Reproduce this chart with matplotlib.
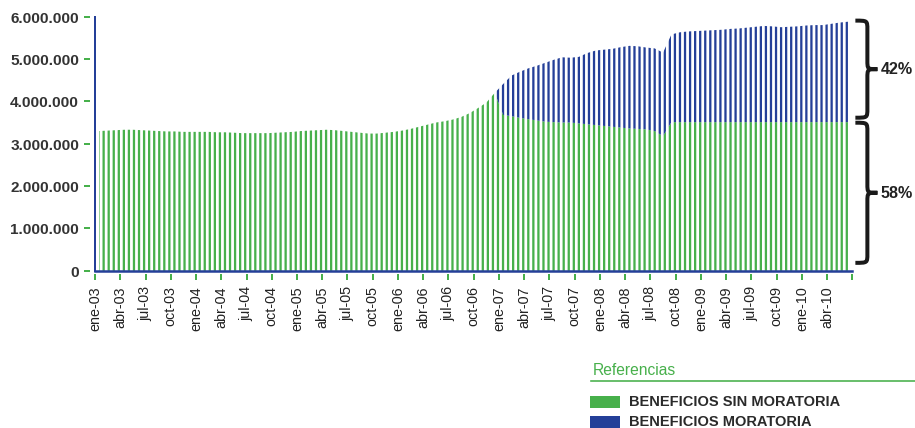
import matplotlib
matplotlib.use("Agg")
import matplotlib.pyplot as plt
from matplotlib.path import Path
from matplotlib.patches import PathPatch, Rectangle
import numpy as np

# 18 hatch lines per inch at 91 dpi gives the ~5 px stripe pitch of the original
DPI = 91
plt.rcParams["font.family"] = ["Liberation Sans", "DejaVu Sans"]
plt.rcParams["hatch.linewidth"] = 1.8

GREEN = "#47b04b"
BLUE = "#243f98"
DARK = "#333333"

# monthly values, millions of benefits, ene-03 .. jun-10
sin_moratoria = [
    3.30, 3.31, 3.32, 3.33, 3.33, 3.32, 3.31, 3.30, 3.29, 3.29, 3.28, 3.28,  # 2003
    3.28, 3.28, 3.27, 3.27, 3.26, 3.25, 3.25, 3.25, 3.25, 3.26, 3.27, 3.28,  # 2004
    3.30, 3.31, 3.32, 3.33, 3.32, 3.30, 3.28, 3.26, 3.24, 3.24, 3.26, 3.28,  # 2005
    3.31, 3.35, 3.40, 3.45, 3.50, 3.53, 3.57, 3.63, 3.72, 3.84, 3.97, 4.20,  # 2006
    3.68, 3.65, 3.61, 3.58, 3.55, 3.52, 3.51, 3.50, 3.50, 3.48, 3.46, 3.44,  # 2007
    3.42, 3.40, 3.38, 3.36, 3.35, 3.34, 3.30, 3.18, 3.51, 3.51, 3.51, 3.51,  # 2008
    3.51, 3.51, 3.51, 3.51, 3.51, 3.51, 3.51, 3.51, 3.51, 3.51, 3.51, 3.51,  # 2009
    3.51, 3.51, 3.51, 3.51, 3.51, 3.51,                                      # 2010
]
moratoria = [
    0, 0, 0, 0, 0, 0, 0, 0, 0, 0, 0, 0,
    0, 0, 0, 0, 0, 0, 0, 0, 0, 0, 0, 0,
    0, 0, 0, 0, 0, 0, 0, 0, 0, 0, 0, 0,
    0, 0, 0, 0, 0, 0, 0, 0, 0, 0, 0, 0,
    0.73, 0.96, 1.09, 1.20, 1.29, 1.39, 1.47, 1.54, 1.53, 1.57, 1.68, 1.76,
    1.80, 1.84, 1.90, 1.95, 1.95, 1.93, 1.95, 1.97, 2.07, 2.12, 2.14, 2.15,
    2.16, 2.17, 2.18, 2.20, 2.21, 2.23, 2.25, 2.27, 2.26, 2.24, 2.25, 2.26,
    2.28, 2.29, 2.29, 2.32, 2.35, 2.37,
]
tick_labels = [
    "ene-03", "abr-03", "jul-03", "oct-03", "ene-04", "abr-04", "jul-04", "oct-04",
    "ene-05", "abr-05", "jul-05", "oct-05", "ene-06", "abr-06", "jul-06", "oct-06",
    "ene-07", "abr-07", "jul-07", "oct-07", "ene-08", "abr-08", "jul-08", "oct-08",
    "ene-09", "abr-09", "jul-09", "oct-09", "ene-10", "abr-10", "",
]
share_labels = ["42%", "58%"]
legend_items = ["BENEFICIOS SIN MORATORIA", "BENEFICIOS MORATORIA"]

green = np.array(sin_moratoria) * 1e6
blue = np.array(moratoria) * 1e6
x = np.arange(len(green)) + 0.5

fig = plt.figure(figsize=(915.4 / DPI, 428.4 / DPI), dpi=DPI)
ax = fig.add_axes([95 / 915, 1 - 271 / 428, (852 - 95) / 915, (271 - 17) / 428])

ax.fill_between(x, 0, green, facecolor="none", edgecolor=GREEN, linewidth=0, hatch="|||")
ax.fill_between(x, green, green + blue, facecolor="none", edgecolor=BLUE, linewidth=0, hatch="|||")

ax.set_xlim(0, 90)
ax.set_ylim(0, 6e6)

# ticks sit a few pixels away from the axis lines, so spines are pushed out and hidden
px = 72 / DPI
ax.spines["left"].set_position(("outward", 5 * px))
ax.spines["bottom"].set_position(("outward", 3 * px))
for s in ax.spines.values():
    s.set_visible(False)
ax.axvline(0, color=BLUE, lw=2 * px, clip_on=False, zorder=3)
ax.axhline(0, color=BLUE, lw=2.5 * px, clip_on=False, zorder=3)

yt = np.arange(0, 7) * 1e6
ax.set_yticks(yt)
ax.set_yticklabels([f"{v:,.0f}".replace(",", ".") for v in yt],
                   fontsize=12.2, fontweight="bold", color=DARK)
ax.set_xticks(np.arange(0, 91, 3))
ax.set_xticklabels(tick_labels, rotation=90, fontsize=11.4, color="#222222")
ax.tick_params(axis="y", direction="out", length=6 * px, width=2 * px, color=GREEN, pad=5 * px)
ax.tick_params(axis="x", direction="out", length=6 * px, width=2 * px, color=GREEN, pad=6 * px)

# overlay in pixel coordinates for braces and legend
ov = fig.add_axes([0, 0, 1, 1])
ov.set_xlim(0, 915)
ov.set_ylim(428, 0)
ov.axis("off")


def brace(x0, y0, y1, arm=12, tip=10, r=9):
    xa = x0 + arm
    xt = xa + tip
    ym = (y0 + y1) / 2
    verts = [(x0, y0), (xa, y0), (xa, y0), (xa, y0 + r),
             (xa, ym - r),
             (xa, ym), (xa, ym), (xt, ym),
             (xa, ym), (xa, ym), (xa, ym + r),
             (xa, y1 - r),
             (xa, y1), (xa, y1), (x0, y1)]
    codes = [Path.MOVETO, Path.CURVE4, Path.CURVE4, Path.CURVE4,
             Path.LINETO,
             Path.CURVE4, Path.CURVE4, Path.CURVE4,
             Path.CURVE4, Path.CURVE4, Path.CURVE4,
             Path.LINETO,
             Path.CURVE4, Path.CURVE4, Path.CURVE4]
    ov.add_patch(PathPatch(Path(verts, codes), facecolor="none",
                           edgecolor="#1a1a1a", lw=4 * px))
    return ym


m1 = brace(855, 21, 118)
m2 = brace(855, 123, 263)
ov.text(880, m1, share_labels[0], fontsize=12.8, fontweight="bold", color="#222222",
        ha="left", va="center")
ov.text(880, m2, share_labels[1], fontsize=12.8, fontweight="bold", color="#222222",
        ha="left", va="center")

ov.text(592, 370, "Referencias", fontsize=12.4, color=GREEN, ha="left", va="center")
ov.plot([591, 915], [381, 381], color=GREEN, lw=1.6 * px)
ov.add_patch(Rectangle((590, 396), 30, 12, facecolor=GREEN, edgecolor="none"))
ov.add_patch(Rectangle((590, 416), 30, 12, facecolor=BLUE, edgecolor="none"))
ov.text(629, 402, legend_items[0], fontsize=11.6, fontweight="bold", color="#2a2a2a",
        ha="left", va="center")
ov.text(629, 422, legend_items[1], fontsize=11.6, fontweight="bold", color="#2a2a2a",
        ha="left", va="center")

fig.savefig("out.png", dpi=DPI, facecolor="white")
